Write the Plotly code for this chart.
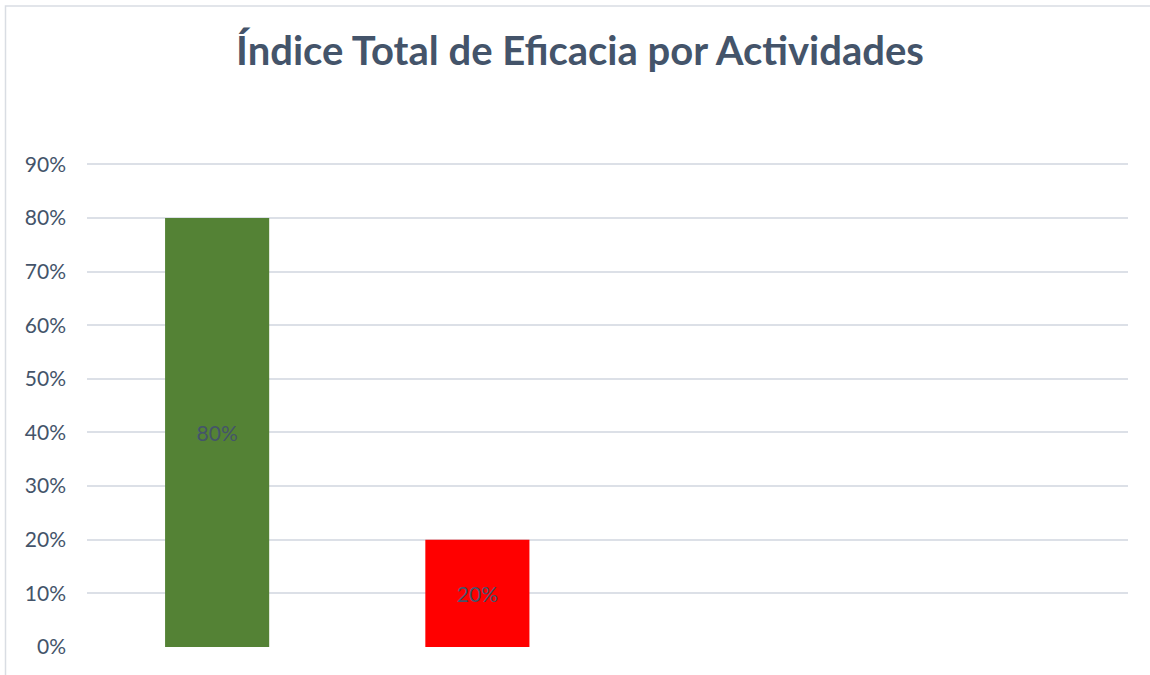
import plotly.graph_objects as go

categories = ["Eficaces", "No eficaces"]
values = [0.80, 0.20]
bar_colors = ["#548235", "#FF0000"]
title_text = "Índice Total de Eficacia por Actividades"
tick_vals = [0, 0.1, 0.2, 0.3, 0.4, 0.5, 0.6, 0.7, 0.8, 0.9]

W, H = 1150, 675
L, R, T, B = 87, 22, 159, 28
pw, ph = W - L - R, H - T - B

fig = go.Figure()
fig.add_trace(go.Bar(
    x=categories,
    y=values,
    marker=dict(color=bar_colors, line=dict(width=0)),
    text=[f"{v:.0%}" for v in values],
    textposition="inside",
    insidetextanchor="middle",
    textfont=dict(family="Lato", size=21, color="#44546A"),
    width=0.4,
))

fig.update_layout(
    width=W, height=H,
    margin=dict(l=L, r=R, t=T, b=B),
    paper_bgcolor="white",
    plot_bgcolor="white",
    showlegend=False,
    title=dict(
        text=f"<b>{title_text}</b>",
        x=580 / W, xanchor="center",
        y=1 - 51 / H, yanchor="middle",
        font=dict(family="Lato", size=40, color="#44546A"),
    ),
    xaxis=dict(
        range=[-0.5, 3.5],
        showticklabels=False,
        showgrid=False,
        zeroline=False,
        showline=False,
        ticks="",
    ),
    yaxis=dict(
        range=[0, 0.91],
        tickvals=tick_vals,
        tickformat=".0%",
        showgrid=True,
        gridcolor="#DCE0E7",
        gridwidth=1.5,
        zeroline=False,
        showline=False,
        ticks="",
        ticklabelstandoff=20,
        tickfont=dict(family="Lato", size=21, color="#44546A"),
    ),
    shapes=[dict(
        type="rect", xref="paper", yref="paper",
        x0=(5.5 - L) / pw, x1=(W + 10 - L) / pw,
        y0=-(B + 10) / ph, y1=(ph + T - 6) / ph,
        line=dict(color="#D9DDE3", width=1.5),
        fillcolor="rgba(0,0,0,0)",
        layer="below",
    )],
)

fig.write_html(
    "out.html",
    config={"displayModeBar": False},
    post_script="document.body.style.margin='0';document.body.style.overflow='hidden';",
)
